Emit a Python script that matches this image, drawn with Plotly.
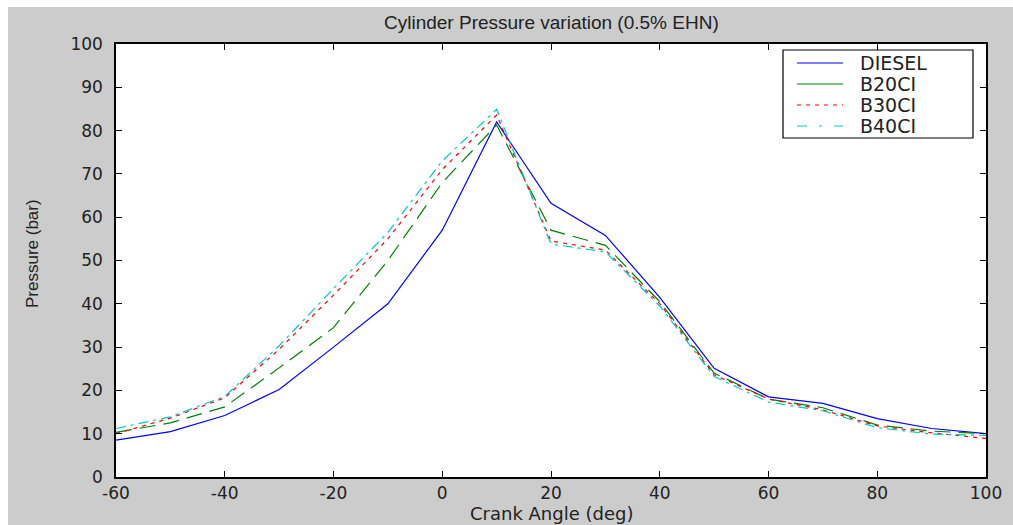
import plotly.graph_objects as go

crank_angle = [-60, -50, -40, -30, -20, -10, 0, 10, 20, 30, 40, 50, 60, 70, 80, 90, 100]
diesel = [8.5, 10.5, 14.2, 20.2, 30, 40, 57, 82, 63.2, 55.8, 41.5, 25.1, 18.5, 17, 13.5, 11.2, 10]
b20ci = [10.3, 12.5, 16.2, 25.2, 34.5, 50, 68, 81.3, 57, 53.5, 40.5, 24, 18, 16, 12, 10.6, 10]
b30ci = [10.0, 13.6, 18.3, 29.5, 42, 55, 71, 83.6, 54.5, 52.4, 40, 23.6, 18, 15.5, 11.8, 10.2, 8.9]
b40ci = [11.2, 13.9, 18.6, 30.3, 43.5, 56.5, 73, 84.9, 53.8, 52, 39.5, 23.2, 17.3, 15.3, 11.4, 9.9, 9.6]

series_names = ["DIESEL", "B20CI", "B30CI", "B40CI"]
series_values = [diesel, b20ci, b30ci, b40ci]
colors = ["#0000ff", "#008000", "#ff0000", "#00c8c8"]
dashes = ["solid", "16px,8px", "4px,5px", "10px,5px,3px,5px"]
legend_dashes = ["solid", "solid", "4px,5px", "10px,12px,3px,12px"]

x_ticks = [-60, -40, -20, 0, 20, 40, 60, 80, 100]
x_tick_labels = ["-60", "-40", "-20", "0", "20", "40", "60", "80", "100"]
y_ticks = [0, 10, 20, 30, 40, 50, 60, 70, 80, 90, 100]

fig = go.Figure()
for name, vals, c, d in zip(series_names, series_values, colors, dashes):
    fig.add_trace(go.Scatter(x=crank_angle, y=vals, mode="lines", name=name,
                             line=dict(color=c, width=1.2, dash=d), showlegend=False))

W, H = 870, 433
L, T = 116, 44
BOTTOM = T + H


def px_x(p):
    return (p - L) / W


def px_y(p):
    return (BOTTOM - p) / H


tick_font = dict(family="DejaVu Sans", size=17, color="#222222")

shapes = [
    dict(type="rect", xref="paper", yref="paper", x0=-1, x1=2,
         y0=1 + (T - 7) / H, y1=1 + T / H + 0.2,
         fillcolor="#ffffff", line=dict(width=0), layer="below"),
    dict(type="rect", xref="paper", yref="paper", x0=-L / W - 0.2, x1=-(L - 8) / W,
         y0=-1, y1=2, fillcolor="#ffffff", line=dict(width=0), layer="below"),
    # legend box
    dict(type="rect", xref="paper", yref="paper", x0=px_x(783), x1=px_x(973),
         y0=px_y(138), y1=px_y(50), fillcolor="#ffffff",
         line=dict(color="#000000", width=1.2), layer="above"),
]
annotations = [
    dict(text="Cylinder Pressure variation (0.5% EHN)", xref="paper", yref="paper",
         x=0.5, y=1 + 22 / H, xanchor="center", yanchor="middle", showarrow=False,
         font=dict(family="Liberation Sans", size=19, color="#222222")),
    dict(text="Crank Angle (deg)", xref="paper", yref="paper",
         x=0.5, y=px_y(513), xanchor="center", yanchor="middle", showarrow=False,
         font=dict(family="DejaVu Sans", size=18, color="#222222")),
    dict(text="Pressure (bar)", xref="paper", yref="paper",
         x=px_x(32), y=px_y(254), xanchor="center", yanchor="middle",
         showarrow=False, textangle=-90,
         font=dict(family="Liberation Sans", size=17, color="#222222")),
]
row_y = [63, 84, 105, 126]
for name, c, d, ry in zip(series_names, colors, legend_dashes, row_y):
    shapes.append(dict(type="line", xref="paper", yref="paper",
                       x0=px_x(797), x1=px_x(843), y0=px_y(ry), y1=px_y(ry),
                       line=dict(color=c, width=1.2, dash=d), layer="above"))
    annotations.append(dict(text=name, xref="paper", yref="paper",
                            x=px_x(858), y=px_y(ry), xanchor="left", yanchor="middle",
                            showarrow=False,
                            font=dict(family="DejaVu Sans", size=19, color="#222222")))

fig.update_layout(
    width=1013, height=525,
    margin=dict(l=L, r=27, t=T, b=48),
    paper_bgcolor="#cccccc",
    plot_bgcolor="#ffffff",
    showlegend=False,
    xaxis=dict(range=[-60, 100], tickvals=x_ticks, ticktext=x_tick_labels,
               ticks="inside", ticklen=6,
               tickcolor="#000000", showline=True, linecolor="#000000", linewidth=1.5,
               mirror="ticks", showgrid=False, zeroline=False, tickfont=tick_font,
               ticklabelstandoff=0),
    yaxis=dict(range=[0, 100], tickvals=y_ticks, ticks="inside", ticklen=6,
               tickcolor="#000000", showline=True, linecolor="#000000", linewidth=1.5,
               mirror="ticks", showgrid=False, zeroline=False, tickfont=tick_font,
               ticklabelstandoff=8),
    shapes=shapes,
    annotations=annotations,
)

fig.write_html("out.html")
